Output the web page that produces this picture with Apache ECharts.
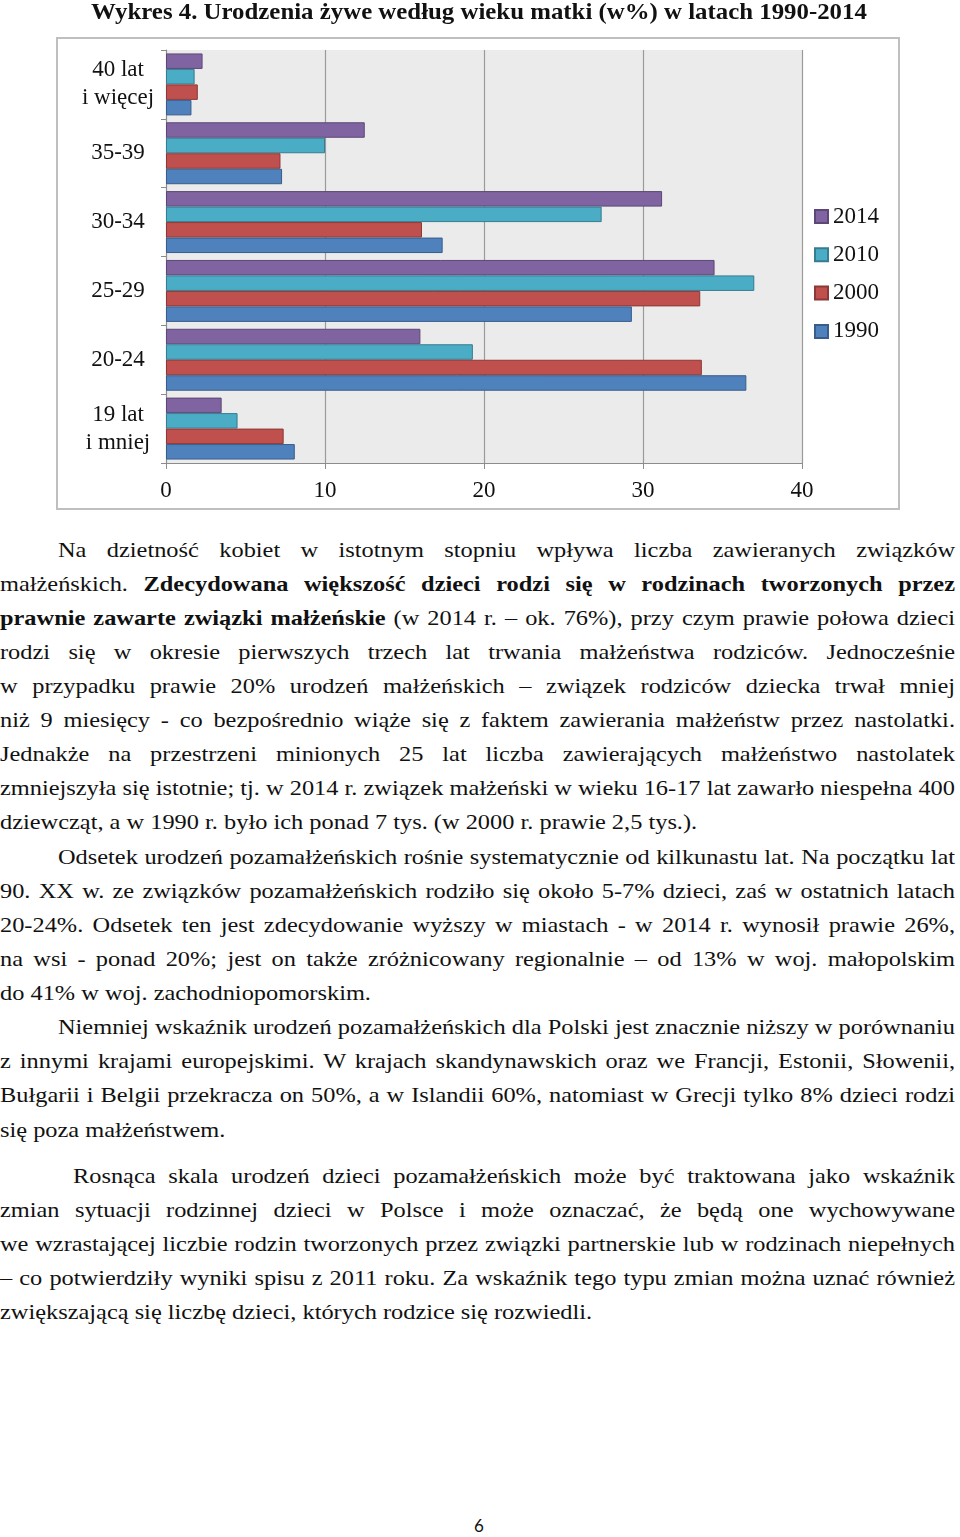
<!DOCTYPE html>
<html>
<head>
<meta charset="utf-8">
<script src="https://cdn.jsdelivr.net/npm/echarts@6/dist/echarts.min.js"></script>
<style>
  html, body { margin: 0; padding: 0; background: #fff; }
  body { width: 960px; height: 1537px; position: relative; overflow: hidden; }
  #chart { position: absolute; left: 0; top: 0; width: 960px; height: 520px; }
  .ln { position: absolute; white-space: nowrap; font-family: "Liberation Serif", "Times New Roman", serif;
        font-size: 22px; line-height: 34px; color: #111; transform-origin: 0 50%; }
  .ln b { font-weight: bold; }
  #pg { position: absolute; left: 0; width: 958px; top: 1515px; text-align: center;
        font-family: Lato, "Open Sans", sans-serif; font-size: 17px; color: #111; }
</style>
</head>
<body>
<div id="chart"></div>
<div id="text"></div>
<div id="pg">6</div>
<script>
// ---- data ----
const categories = ['19 lat\ni mniej', '20-24', '25-29', '30-34', '35-39', '40 lat\ni więcej'];
const years = ['2014', '2010', '2000', '1990'];
const v2014 = [3.5, 16.0, 34.5, 31.2, 12.5, 2.3];
const v2010 = [4.5, 19.3, 37.0, 27.4, 10.0, 1.8];
const v2000 = [7.4, 33.7, 33.6, 16.1, 7.2, 2.0];
const v1990 = [8.1, 36.5, 29.3, 17.4, 7.3, 1.6];
const xMin = 0, xMax = 40, xStep = 10;

const seriesValues = { '2014': v2014, '2010': v2010, '2000': v2000, '1990': v1990 };
const fills = { '2014': '#8064a2', '2010': '#4bacc6', '2000': '#c0504d', '1990': '#4f81bd' };
const borders = { '2014': '#5c4776', '2010': '#357d91', '2000': '#8c3836', '1990': '#385d8a' };

const serif = '"Liberation Serif", "Times New Roman", serif';
const chart = echarts.init(document.getElementById('chart'));
chart.setOption({
  animation: false,
  graphic: [{
    type: 'rect', shape: { x: 57, y: 38, width: 842, height: 471 },
    style: { fill: 'none', stroke: '#bfbfbf', lineWidth: 2 }, z: -1
  }, {
    type: 'text', x: 479, y: 13, scaleX: 1.08,
    style: {
      text: 'Wykres 4. Urodzenia żywe według wieku matki (w%) w latach 1990-2014',
      x: 0, y: 0, align: 'center', verticalAlign: 'middle',
      fontFamily: serif, fontWeight: 'bold', fontSize: 23, fill: '#111'
    }
  }],
  legend: {
    orient: 'vertical', left: 809, top: 200, itemWidth: 13, itemHeight: 13, itemGap: 15.3,
    icon: 'rect',
    data: years,
    textStyle: { fontFamily: serif, fontSize: 23, color: '#111', lineHeight: 23 }
  },
  grid: { left: 166, top: 50, width: 636, height: 413, show: true, backgroundColor: '#ebebeb', borderWidth: 0 },
  xAxis: {
    type: 'value', min: xMin, max: xMax, interval: xStep,
    axisLine: { show: true, lineStyle: { color: '#8c8c8c', width: 1 } },
    axisTick: { show: true, length: 6, lineStyle: { color: '#8c8c8c' } },
    splitLine: { show: true, lineStyle: { color: '#9a9a9a', width: 1.2 } },
    axisLabel: { margin: 16, fontFamily: serif, fontSize: 23, color: '#111' }
  },
  yAxis: {
    type: 'category', data: categories,
    axisLine: { show: true, lineStyle: { color: '#8c8c8c', width: 1 } },
    axisTick: { show: true, length: 5, lineStyle: { color: '#8c8c8c' } },
    axisLabel: { margin: 48, fontFamily: serif, fontSize: 23, color: '#111', lineHeight: 28, align: 'center',
                 padding: [5, 0, 0, 0] }
  },
  series: years.map(y => ({
    name: y, type: 'bar', data: seriesValues[y],
    barGap: '0%', barCategoryGap: '10%',
    itemStyle: { color: fills[y], borderColor: borders[y], borderWidth: 1 }
  }))
});

// ---- text ----
const lines = [
  [550, 58, 'j', 'Na dzietność kobiet w istotnym stopniu wpływa liczba zawieranych związków'],
  [584, 0, 'j', 'małżeńskich. <b>Zdecydowana większość dzieci rodzi się w rodzinach tworzonych przez</b>'],
  [618, 0, 'j', '<b>prawnie zawarte związki małżeńskie</b> (w 2014 r. – ok. 76%), przy czym prawie połowa dzieci'],
  [652, 0, 'j', 'rodzi się w okresie pierwszych trzech lat trwania małżeństwa rodziców. Jednocześnie'],
  [686, 0, 'j', 'w przypadku prawie 20% urodzeń małżeńskich – związek rodziców dziecka trwał mniej'],
  [720, 0, 'j', 'niż 9 miesięcy - co bezpośrednio wiąże się z faktem zawierania małżeństw przez nastolatki.'],
  [754, 0, 'j', 'Jednakże na przestrzeni minionych 25 lat liczba zawierających małżeństwo nastolatek'],
  [788, 0, 'j', 'zmniejszyła się istotnie; tj. w 2014 r. związek małżeński w wieku 16-17 lat zawarło niespełna 400'],
  [822, 0, 'l', 'dziewcząt, a w 1990 r. było ich ponad 7 tys. (w 2000 r. prawie 2,5 tys.).'],
  [857, 58, 'j', 'Odsetek urodzeń pozamałżeńskich rośnie systematycznie od kilkunastu lat. Na początku lat'],
  [891, 0, 'j', '90. XX w. ze związków pozamałżeńskich rodziło się około 5-7% dzieci, zaś w ostatnich latach'],
  [925, 0, 'j', '20-24%. Odsetek ten jest zdecydowanie wyższy w miastach - w 2014 r. wynosił prawie 26%,'],
  [959, 0, 'j', 'na wsi - ponad 20%; jest on także zróżnicowany regionalnie – od 13% w woj. małopolskim'],
  [993, 0, 'l', 'do 41% w woj. zachodniopomorskim.'],
  [1027, 58, 'j', 'Niemniej wskaźnik urodzeń pozamałżeńskich dla Polski jest znacznie niższy w porównaniu'],
  [1061, 0, 'j', 'z innymi krajami europejskimi. W krajach skandynawskich oraz we Francji, Estonii, Słowenii,'],
  [1095, 0, 'j', 'Bułgarii i Belgii przekracza on 50%, a w Islandii 60%, natomiast w Grecji tylko 8% dzieci rodzi'],
  [1130, 0, 'l', 'się poza małżeństwem.'],
  [1176, 73, 'j', 'Rosnąca skala urodzeń dzieci pozamałżeńskich może być traktowana jako wskaźnik'],
  [1210, 0, 'j', 'zmian sytuacji rodzinnej dzieci w Polsce i może oznaczać, że będą one wychowywane'],
  [1244, 0, 'j', 'we wzrastającej liczbie rodzin tworzonych przez związki partnerskie lub w rodzinach niepełnych'],
  [1278, 0, 'j', '– co potwierdziły wyniki spisu z 2011 roku. Za wskaźnik tego typu zmian można uznać również'],
  [1312, 0, 'l', 'zwiększającą się liczbę dzieci, których rodzice się rozwiedli.']
];
const RIGHT = 955;
const host = document.getElementById('text');
const els = lines.map(([cy, x, mode, html]) => {
  const d = document.createElement('div');
  d.className = 'ln';
  d.style.left = x + 'px';
  d.style.top = (cy - 17) + 'px';
  d.innerHTML = html;
  host.appendChild(d);
  return { d, x, mode };
});
// common horizontal scale from the tightest justified line
let s = Infinity;
els.forEach(e => {
  if (e.mode !== 'j') return;
  const w = e.d.getBoundingClientRect().width;
  s = Math.min(s, (RIGHT - e.x) / w);
});
els.forEach(e => {
  const w = e.d.getBoundingClientRect().width;
  if (e.mode === 'j') {
    const n = (e.d.textContent.match(/ /g) || []).length;
    const ws = n ? ((RIGHT - e.x) / s - w) / n : 0;
    e.d.style.wordSpacing = ws + 'px';
  }
  e.d.style.transform = 'scaleX(' + s + ')';
});
</script>
</body>
</html>
